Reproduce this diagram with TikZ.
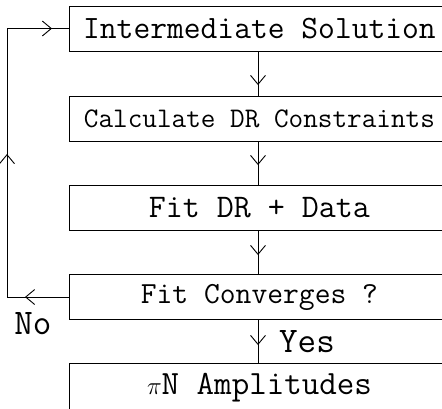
\documentclass[tikz,border=0pt]{standalone}
\usetikzlibrary{arrows.meta}
\tikzset{
  stepbox/.style={draw, line width=0.9pt, minimum width=380pt, minimum height=45pt, inner sep=0pt, anchor=west, font=\ttfamily},
  arr/.style={-{Straight Barb[length=9pt,width=15pt,line width=0.9pt]}},
  lbl/.style={font=\ttfamily\fontsize{36}{36}\selectfont, inner sep=0pt}
}
\begin{document}
\begin{tikzpicture}[x=1pt,y=-1pt,line width=0.9pt]
\useasboundingbox (0,0) rectangle (442,408);
\clip (0,0) rectangle (442,408);
\node[stepbox] (b1) at (69,28.5) {\fontsize{32.6}{32.6}\selectfont Intermediate Solution};
\node[stepbox] (b2) at (69,118.5) {\fontsize{28.4}{28.4}\selectfont Calculate DR Constraints};
\node[stepbox] (b3) at (69,207.5) {\fontsize{33}{33}\selectfont Fit DR + Data};
\node[stepbox] (b4) at (69,297) {\fontsize{30.7}{30.7}\selectfont Fit Converges ?};
\node[stepbox, minimum height=49pt] (b5) at (69,388) {\fontsize{34}{34}\selectfont\raisebox{1.5pt}{$\pi$N Amplitudes}};
\coordinate (v1) at (258,51);
\coordinate (v2) at (258,96);
\coordinate (v3) at (258,141);
\coordinate (v4) at (258,185);
\coordinate (v5) at (258,230);
\coordinate (v6) at (258,275);
\coordinate (v7) at (258,319);
\coordinate (v8) at (258,363.5);
\draw (v1) -- (v2);
\draw[arr] (v1) -- ++(0,34);
\draw (v3) -- (v4);
\draw[arr] (v3) -- ++(0,24);
\draw (v5) -- (v6);
\draw[arr] (v5) -- ++(0,25);
\draw (v7) -- (v8);
\draw[arr] (v7) -- ++(0,26);
\coordinate (c1) at (7,297);
\coordinate (c2) at (7,28.5);
\draw (b4.west) -- (c1) -- (c2) -- (b1.west);
\draw[arr] (b4.west) -- ++(-44,0);
\draw[arr] (c1) -- (7,154);
\draw[arr] (c2) -- (52,28.5);
\node[lbl] (no) at (33,324) {No};
\node[lbl] (yes) at (307,342) {Yes};
\end{tikzpicture}
\end{document}
